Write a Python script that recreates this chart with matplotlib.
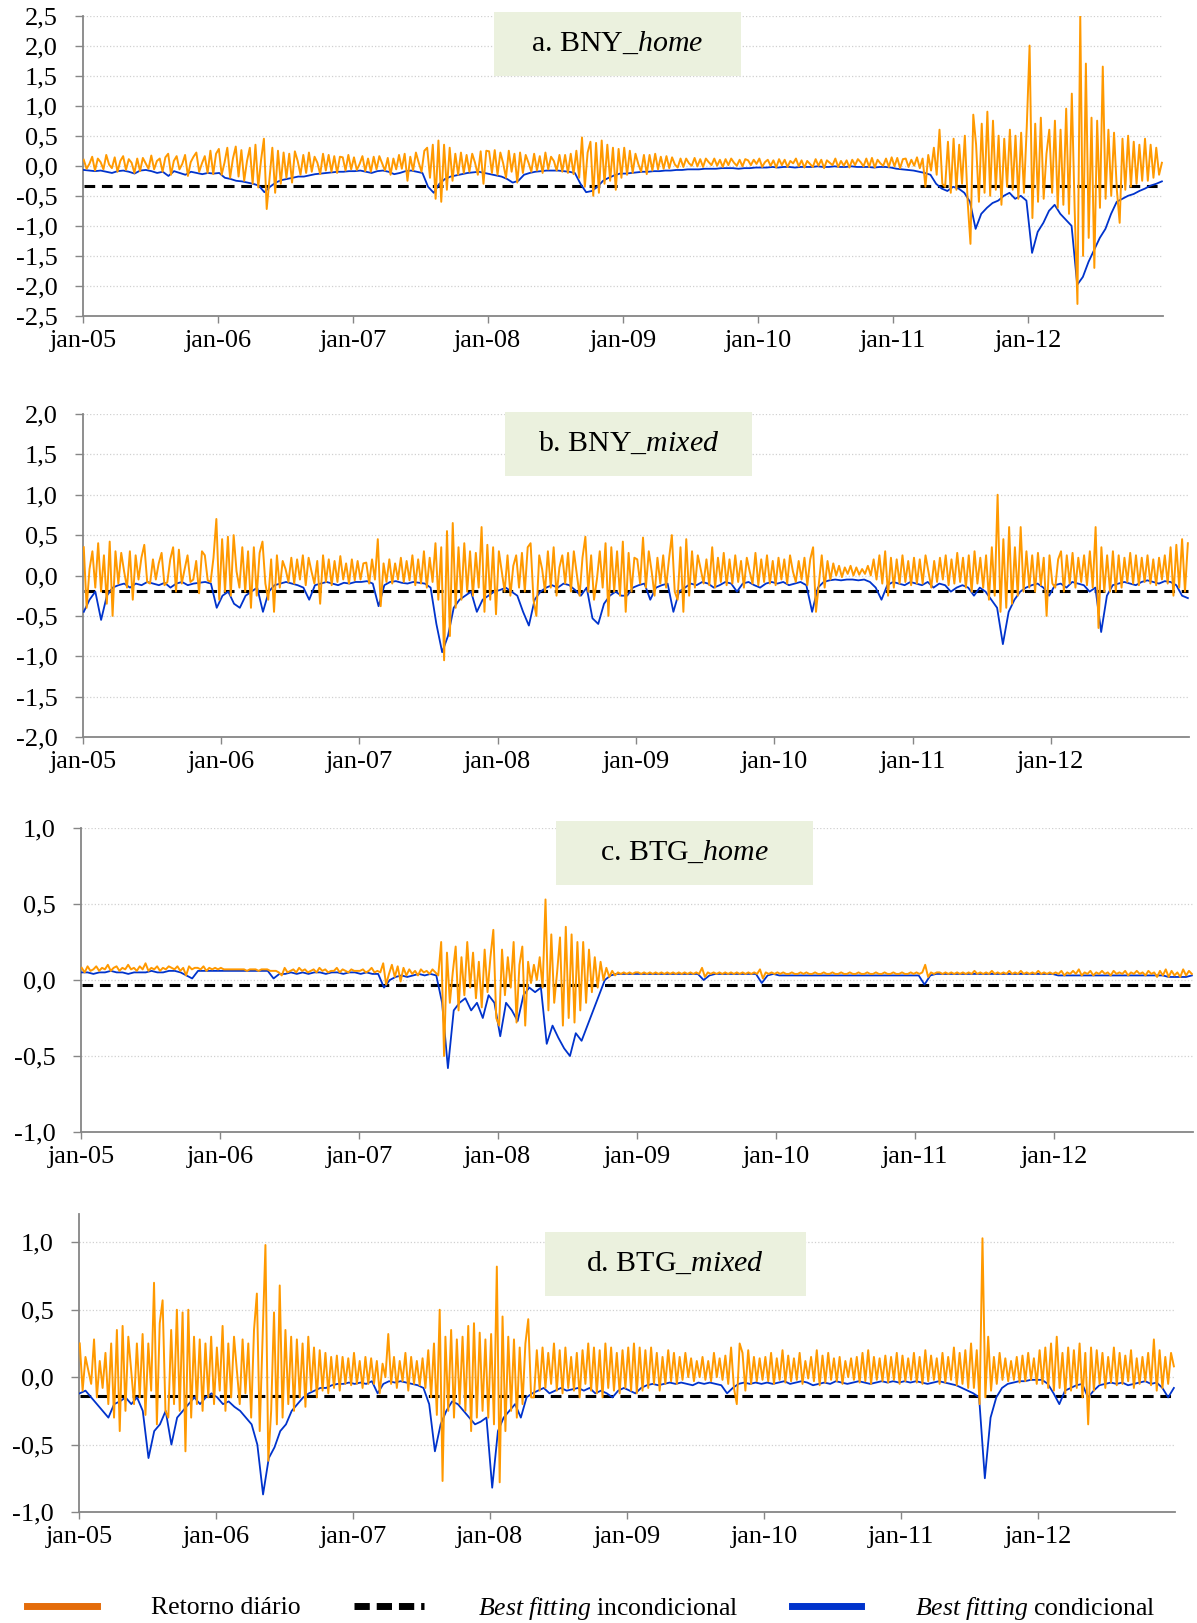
import numpy as np
import pandas as pd
import matplotlib
matplotlib.use('Agg')
import matplotlib.pyplot as plt
from matplotlib.lines import Line2D
from matplotlib.patches import Rectangle

plt.rcParams['font.family'] = ['Liberation Serif', 'DejaVu Serif']
plt.rcParams['mathtext.fontset'] = 'custom'
plt.rcParams['mathtext.rm'] = 'Liberation Serif'
plt.rcParams['mathtext.it'] = 'Liberation Serif:italic'

# valores (em centesimos): retorno ~4 pontos por mes, condicional ~2 por mes

# a. BNY_home
ret_a = [
    10,-5,3,15, -8,12,6,-6, 18,2,-4,14, -10,8,16,-7, 11,5,-12,12, -9,13,4,-5, 17,-6,8,12, -10,14,20,-15, 8,16,-6,3, 18,-17,6,15, 22,-10,4,16, -12,25,-14,20,  # 2005
    28,-15,5,30, -20,12,32,-18, 26,-25,8,30, -30,35,-36,10, 45,-72,-20,30, -45,25,-30,22, -20,20,-28,24, 8,-15,18,-12, 22,-10,15,5, -14,20,-8,18, -10,16,-12,15, 14,-8,18,-6,  # 2006
    14,-7,3,16, -9,12,-10,15, -6,16,4,-8, 13,-15,12,-6, 18,-5,20,-25, 15,-8,22,5, -10,25,30,-20, 35,-55,42,-60, 35,-40,30,-25, 20,-15,22,-12, 18,-10,20,5, -15,24,-30,25,  # 2007
    24,-12,26,-15, 22,4,-20,25, -10,20,-28,22, -12,18,5,-10, 20,-8,16,-12, 22,-6,15,8, -8,18,-10,18, -12,20,-14,25, -20,47,-35,22, 40,-50,38,-45, 42,-30,35,-25, 30,-40,28,-20,  # 2008
    30,-15,25,-12, 20,3,-10,18, -14,18,-8,20, -6,15,-5,16, -4,14,2,-3, 12,-2,12,4, 0,13,-1,11, -2,12,6,1, 12,0,10,-2, 11,1,12,5, 0,10,-1,11, 9,1,10,3,  # 2009
    12,-2,6,10, 0,9,-3,11, 1,10,-2,8, 4,12,-1,9, -3,8,3,-2, 11,0,10,-4, 9,5,1,12, -2,8,0,9, -3,10,1,11, 6,-1,12,-2, 13,-3,10,4, 0,12,-2,14,  # 2010
    -1,13,-4,11, 12,-2,10,0, 14,-4,12,-35, 18,-8,30,-15, 60,-30,-35,40, -45,45,-40,35, -30,50,-60,-130, 85,35,-60,70, -45,90,-50,75, -40,50,-65,45, -35,60,-40,50, -55,55,-45,65,  # 2011
    200,-87,70,-60, 80,-55,20,60, -45,75,-70,60, -65,95,-80,120, -70,-230,250,-150, 170,-120,80,-170, 75,-70,165,-55, 60,-50,55,-40, -95,45,-40,50, -35,40,-30,35, -25,45,-25,35, -20,30,-15,5,  # 2012
]
cond_a = [
    -7,-8,-9,-8,-10,-12,-9,-8,-10,-13,-8,-7,-9,-12,-10,-17,-9,-12,-15,-10,-12,-14,-12,-13,
    -12,-20,-22,-25,-26,-28,-30,-33,-44,-35,-28,-24,-22,-20,-18,-18,-16,-14,-13,-12,-11,-10,-10,-9,
    -9,-8,-10,-12,-9,-8,-10,-14,-12,-9,-8,-10,-12,-35,-45,-30,-22,-18,-16,-14,-12,-11,-10,-12,
    -14,-16,-18,-22,-28,-25,-15,-12,-10,-9,-8,-8,-8,-9,-10,-12,-30,-44,-42,-35,-25,-20,-16,-13,
    -13,-12,-11,-10,-10,-9,-9,-8,-8,-7,-7,-6,-6,-6,-5,-5,-5,-4,-4,-4,-5,-4,-4,-3,
    -3,-3,-2,-3,-2,-2,-3,-2,-2,-2,-1,-2,-2,-1,-2,-2,-1,-2,-2,-2,-3,-2,-2,-3,
    -5,-6,-7,-8,-10,-12,-15,-30,-38,-42,-35,-38,-45,-60,-105,-80,-70,-62,-58,-50,-45,-55,-50,-58,
    -145,-110,-95,-75,-65,-80,-90,-100,-198,-185,-160,-140,-120,-105,-80,-60,-55,-50,-47,-42,-38,-33,-30,-26,
]

# b. BNY_mixed
ret_b = [
    35,-40,8,30, -15,40,-20,25, -35,42,-50,30, -10,28,5,-15, 30,-30,25,-5, 22,38,-8,-10, 20,-5,15,28, -12,-8,20,35, -20,32,-10,8, 25,-8,-5,18, -22,30,25,-6, -8,22,70,-30,
    45,-20,48,-25, 50,5,-15,35, -20,30,-40,35, -25,28,42,-10, -30,20,-45,25, -15,18,8,-8, 22,-10,20,-5, 25,-12,22,5, -10,18,-35,25, -8,20,-12,18, -8,24,-5,15, -10,20,-6,18,
    -5,15,16,-10, 20,-5,45,-38, 15,-8,20,-10, 15,-5,22,-8, 18,-6,25,-12, 20,-10,30,-15, 22,-8,40,-30, 35,-105,55,-75, 65,-40,35,-30, 40,-20,30,-25, 28,-15,60,-45, 38,-30,35,-48,
    30,5,-20,25, -25,12,25,-15, 28,-20,35,40, -30,-50,25,8, -20,30,-15,35, -25,10,25,-10, 28,-20,30,2, -25,22,48,-20, 25,-30,-5,30, -15,40,-50,35, -20,30,-25,42, -45,28,-20,22,
    20,-10,47,-15, 30,5,-25,22, -10,25,-15,20, 50,-20,-30,35, -45,45,-25,30, -15,25,8,-10, 20,-12,35,-15, 22,-8,28,-12, 20,-10,25,-8, 18,-15,22,5, -10,28,-12,20, -8,25,-10,18,
    -12,22,-5,20, -10,25,5,-8, 18,-5,22,-12, 20,35,-45,-10, 25,-15,18,-5, 15,0,12,-2, 10,2,12,0, 10,1,8,2, 12,0,20,-5, 25,-10,30,-25, 22,-15,20,-10, 25,-8,18,-12,
    22,-10,20,-10, 25,5,-15,18, -8,22,-5,25, -12,20,-10,28, -8,22,-15,25, -20,30,-10,22, -15,25,-30,35, -25,100,-45,45, -40,60,-35,35, -25,60,-20,30, -15,25,-20,28, -12,22,-50,25,
    -10,-15,20,30, -20,25,-10,28, -15,22,-8,25, -12,30,-15,60, -65,35,-20,25, -20,30,-20,25, -15,22,-8,28, -10,25,-12,22, -8,25,-10,20, -12,22,-5,25, -10,35,-25,38, -15,45,-20,40,
]
cond_b = [
    -45,-30,-20,-55,-25,-15,-12,-10,-15,-10,-12,-8,-10,-12,-9,-15,-10,-8,-12,-10,-9,-8,-10,-40,
    -25,-20,-35,-40,-25,-20,-15,-45,-20,-12,-10,-8,-10,-12,-15,-30,-12,-10,-8,-10,-12,-9,-10,-8,
    -8,-7,-10,-38,-12,-8,-7,-9,-10,-8,-9,-10,-15,-60,-95,-75,-40,-30,-25,-20,-45,-30,-25,-20,
    -18,-15,-20,-25,-45,-62,-30,-20,-15,-12,-15,-10,-12,-18,-25,-15,-53,-60,-35,-25,-20,-25,-25,-15,
    -12,-10,-30,-15,-12,-10,-45,-20,-15,-10,-12,-8,-10,-15,-12,-8,-10,-20,-10,-8,-12,-15,-10,-8,
    -10,-8,-12,-10,-8,-12,-45,-15,-8,-6,-5,-6,-5,-5,-6,-5,-8,-15,-30,-12,-8,-10,-12,-8,
    -10,-12,-8,-15,-10,-12,-20,-15,-12,-15,-25,-15,-20,-30,-40,-85,-45,-30,-20,-15,-12,-10,-15,-25,
    -12,-10,-15,-8,-10,-12,-20,-15,-70,-25,-12,-10,-8,-10,-12,-8,-6,-8,-10,-7,-8,-12,-25,-28,
]

# c. BTG_home
ret_c = [
    8,5,9,6,7,9,6,8, 7,10,6,8,9,6,8,7, 10,7,8,6,9,7,11,6, 8,7,9,6,8,7,9,8, 7,9,6,8,3,9,7,8, 8,7,9,6,8,7,8,7,
    8,7,7,7,7,7,7,7, 7,6,7,7,7,6,7,7, 7,6,6,6,5,3,8,5, 6,7,5,8,6,7,5,6, 7,5,8,6,7,5,6,6, 8,5,7,6,5,7,6,6,
    6,7,5,6, 8,5,6,5, 11,-3,4,10, 2,9,-1,8, 3,7,4,6, 3,7,5,6, 4,7,5,3, 25,-50,18,-15, 5,22,-20,15, -10,25,-5,18, -12,12,-18,20, -8,15,33,-25,
    -30,20,-10,15, -5,25,-28,10, 22,-30,12,-2, 10,0,15,-5, 53,-20,30,-15, 5,28,-30,35, -25,30,-28,25, -20,25,-15,20, -8,15,-5,12, 0,8,2,6, 3,5,4,5, 4,5,4,5,
    5,4,5,4,5,4,5,4, 5,4,5,4,5,4,5,4, 5,4,5,4,5,4,8,2, 5,4,5,4,5,4,5,4, 5,4,5,4,5,4,5,4, 5,4,7,1,5,4,5,4,
    5,4,5,4,4,5,4,4, 5,4,5,4,4,5,4,4, 5,4,4,5,4,4,5,4, 4,5,4,4,5,4,4,5, 4,4,5,4,4,5,4,4, 5,4,4,5,4,4,5,4,
    5,4,5,10,2,5,4,5, 5,4,5,4,5,4,5,4, 5,4,5,4,6,4,5,4, 5,4,6,4,5,4,5,4, 6,4,5,4,6,4,5,4, 5,4,6,4,5,4,5,4,
    5,4,6,3,5,4,6,4, 7,3,5,4,6,3,5,4, 6,4,5,3,6,4,5,4, 6,3,5,4,6,4,5,3, 6,4,5,2,6,3,7,2, 6,3,5,2,7,3,6,4,
]
cond_c = [
    5,5,4,5,5,6,5,5,4,5,5,5,6,5,5,6,6,5,3,1,6,6,6,6,
    6,6,6,6,6,6,6,6,6,1,4,4,5,4,5,4,5,5,4,5,5,4,5,5,
    4,5,4,4,-5,0,2,3,2,3,4,3,4,3,-15,-58,-20,-15,-12,-20,-15,-25,-10,-15,
    -37,-15,-20,-27,-10,-5,-8,-5,-42,-30,-38,-45,-50,-35,-40,-30,-20,-10,0,3,4,4,4,4,
    4,4,4,4,4,4,4,4,4,4,4,0,3,4,4,4,4,4,4,4,4,-2,3,4,
    3,3,3,3,3,3,3,3,3,3,3,3,3,3,3,3,3,3,3,3,3,3,3,3,
    3,-3,3,4,4,4,4,4,4,4,4,4,4,4,4,4,4,4,4,4,4,4,4,4,
    3,3,3,3,3,3,3,3,3,3,3,3,3,3,3,3,3,3,3,2,2,2,2,3,
]

# d. BTG_mixed
ret_d = [
    25,-10,15,5, -5,28,-15,12, -8,18,-20,25, -30,35,-40,38, -25,30,5,-20, 25,-15,32,-28, 25,-10,70,-35, 40,57,-25,-30, 35,-20,50,-25, 48,-55,50,-30, 30,-20,28,-25, 25,-15,30,-20,
    22,-10,38,-25, 25,-15,30,5, -20,28,-12,25, -30,35,62,-40, 30,98,-62,-25, 48,-35,68,-30, 35,-20,30,-25, 28,-15,25,-22, 30,-10,22,-15, 20,-10,18,-12, 15,-8,16,-10, 15,-5,14,-6,
    18,-5,12,-8, 15,-5,14,-5, 12,-12,10,0, 32,-5,15,-8, 12,-3,18,-10, 15,-5,12,-6, 14,-8,20,-15, 25,-28,50,-77, 30,-25,35,-30, 28,-20,30,-25, 38,-40,40,-30, 33,-25,28,-30,
    32,-35,82,-78, 45,-40,30,-25, 28,-30,22,-20, 25,43,-15,-15, 20,-10,22,-8, 18,-5,25,-10, 20,-12,22,-8, 15,-10,18,-15, 20,-5,25,-10, 22,-12,20,-15, 25,-8,22,-10, 18,-12,20,-8,
    22,-10,25,-12, 22,-10,20,-8, 22,-5,18,-10, 15,-5,20,-3, 18,-5,15,-2, 18,0,14,-3, 12,0,15,-2, 12,-3,18,0, 14,-2,16,-5, 22,-8,-20,25, 18,-10,20,-5, 15,-3,14,-2,
    15,-3,18,-5, 14,-2,20,-4, 16,-3,14,-2, 18,-5,12,-1, 15,-3,20,-6, 16,-4,18,-2, 14,-3,15,-5, 12,0,14,-2, 15,-4,18,-3, 20,-5,15,-2, 14,-3,16,-4, 15,-2,18,-5,
    16,-3,14,-2, 18,-4,15,-5, 20,-3,16,-2, 14,-5,18,-4, 15,-2,22,-6, 18,-5,20,-8, 25,-8,20,-20, 103,-15,30,-10, 15,-5,18,-2, 14,-3,12,-2, 15,-4,16,-3, 18,-2,14,-5,
    20,-5,22,-8, 25,-10,30,-8, 18,-12,22,-10, 20,-8,25,-15, 18,-35,22,-10, 20,-5,18,-8, 15,-4,22,-6, 18,-5,16,-3, 20,-8,14,-5, 15,-3,18,-6, 28,-10,20,-8, 15,-5,18,8,
]
cond_d = [
    -12,-10,-15,-20,-25,-30,-20,-18,-15,-20,-15,-25,-60,-40,-35,-25,-50,-30,-25,-20,-15,-20,-15,-12,
    -15,-20,-18,-22,-25,-30,-35,-50,-87,-60,-52,-40,-35,-25,-20,-15,-12,-10,-8,-8,-6,-5,-5,-4,
    -5,-4,-5,-3,-12,-5,-3,-4,-3,-4,-5,-6,-8,-20,-55,-35,-25,-18,-20,-25,-30,-35,-33,-30,
    -82,-40,-30,-25,-20,-30,-15,-12,-10,-8,-12,-10,-8,-10,-9,-8,-10,-8,-12,-10,-12,-15,-10,-8,
    -10,-12,-8,-6,-5,-6,-5,-4,-5,-4,-5,-6,-4,-5,-4,-5,-6,-12,-8,-5,-4,-5,-4,-5,
    -4,-5,-4,-3,-5,-4,-3,-4,-6,-5,-4,-5,-3,-4,-5,-4,-3,-4,-5,-4,-3,-4,-3,-4,
    -3,-4,-3,-4,-5,-4,-3,-4,-5,-6,-8,-10,-12,-15,-75,-30,-15,-8,-5,-4,-3,-3,-2,-2,
    -2,-5,-12,-20,-10,-8,-6,-5,-15,-10,-6,-5,-4,-5,-4,-6,-5,-4,-3,-5,-4,-8,-15,-8,
]

# best fitting incondicional (linha tracejada)
incond = {'a': -0.33, 'b': -0.19, 'c': -0.03, 'd': -0.14}

anos = ['2005', '2006', '2007', '2008', '2009', '2010', '2011', '2012']
rotulos_x = ['jan-05', 'jan-06', 'jan-07', 'jan-08', 'jan-09', 'jan-10', 'jan-11', 'jan-12']

yticks_a = [-2.5, -2.0, -1.5, -1.0, -0.5, 0.0, 0.5, 1.0, 1.5, 2.0, 2.5]
yticks_b = [-2.0, -1.5, -1.0, -0.5, 0.0, 0.5, 1.0, 1.5, 2.0]
yticks_c = [-1.0, -0.5, 0.0, 0.5, 1.0]
yticks_d = [-1.0, -0.5, 0.0, 0.5, 1.0]

laranja = '#FF9900'
azul = '#0033CC'
cinza = '#868686'

W, H = 1197, 1623
fig = plt.figure(figsize=(W / 100, H / 100), dpi=100)

def ret_axes(x0, x1, ytop, ybot):
    # posicao em pixels -> fracao da figura
    return [x0 / W, 1 - ybot / H, (x1 - x0) / W, (ybot - ytop) / H]

paineis = [
    dict(k='a', rect=ret_axes(83, 1163, 15.5, 316), ylim=(-2.5, 2.5), yt=yticks_a,
         ret=ret_a, cond=cond_a, nome='a. BNY_', it='home', box=(0.381, 0.799, 0.228, 0.213)),
    dict(k='b', rect=ret_axes(83, 1189, 414, 737), ylim=(-2.0, 2.0), yt=yticks_b,
         ret=ret_b, cond=cond_b, nome='b. BNY_', it='mixed', box=(0.382, 0.808, 0.223, 0.198)),
    dict(k='c', rect=ret_axes(81, 1193, 828, 1132), ylim=(-1.0, 1.0), yt=yticks_c,
         ret=ret_c, cond=cond_c, nome='c. BTG_', it='home', box=(0.427, 0.8125, 0.231, 0.2105)),
    dict(k='d', rect=ret_axes(79, 1175, 1214, 1512), ylim=(-1.0, 1.21), yt=yticks_d,
         ret=ret_d, cond=cond_d, nome='d. BTG_', it='mixed', box=(0.425, 0.725, 0.238, 0.215)),
]

xmin = pd.Timestamp('2005-01-01')
xmax = pd.Timestamp('2012-12-31')
ticks_x = [pd.Timestamp(a + '-01-01') for a in anos]

for p in paineis:
    ax = fig.add_axes(p['rect'])
    r = np.array(p['ret']) / 100.0
    c = np.array(p['cond']) / 100.0
    dr = pd.date_range('2005-01-03', '2012-12-28', periods=len(r))
    dc = pd.date_range('2005-01-03', '2012-12-28', periods=len(c))

    ax.plot([dr[0], dr[-1]], [incond[p['k']]] * 2, color='black', lw=2.2,
            linestyle=(0, (3.5, 2.2)), zorder=2)
    ax.plot(dc, c, color=azul, lw=1.3, zorder=3)
    ax.plot(dr, r, color=laranja, lw=1.4, zorder=4)

    ax.set_xlim(xmin, xmax)
    ax.set_ylim(*p['ylim'])
    ax.set_yticks(p['yt'])
    ax.set_yticklabels([('%.1f' % v).replace('.', ',') for v in p['yt']])
    ax.set_xticks(ticks_x)
    ax.set_xticklabels(rotulos_x)
    ax.grid(axis='y', color='#D0D0D0', linestyle=':', lw=0.9)
    ax.set_axisbelow(True)
    for s in ['top', 'right']:
        ax.spines[s].set_visible(False)
    for s in ['left', 'bottom']:
        ax.spines[s].set_color(cinza)
        ax.spines[s].set_linewidth(1.3)
    ax.tick_params(axis='y', length=6, width=1, color=cinza, pad=12, labelsize=19)
    ax.tick_params(axis='x', length=5, width=1, color=cinza, pad=5, labelsize=19)

    bx, by, bw, bh = p['box']
    ax.add_patch(Rectangle((bx, by), bw, bh, transform=ax.transAxes, facecolor='#EBF1DE',
                           edgecolor='none', clip_on=False, zorder=5))
    ax.text(bx + bw / 2, by + bh / 2, p['nome'] + r'$\mathit{' + p['it'] + '}$',
            transform=ax.transAxes, ha='center', va='center', fontsize=21.5, zorder=6)

handles = [Line2D([], [], color='#E46C0A', lw=5),
           Line2D([], [], color='black', lw=5, linestyle=(0, (2.2, 1.0))),
           Line2D([], [], color=azul, lw=5)]
labels = ['Retorno diário',
          r'$\mathit{Best\ fitting}$ incondicional',
          r'$\mathit{Best\ fitting}$ condicional']
fig.legend(handles, labels, loc='center', bbox_to_anchor=(0.494, 1 - 1608 / H), ncol=3,
           frameon=False, fontsize=18.5, handlelength=2.7, handletextpad=2.1, columnspacing=2.1)

fig.savefig('out.png', dpi=100)
